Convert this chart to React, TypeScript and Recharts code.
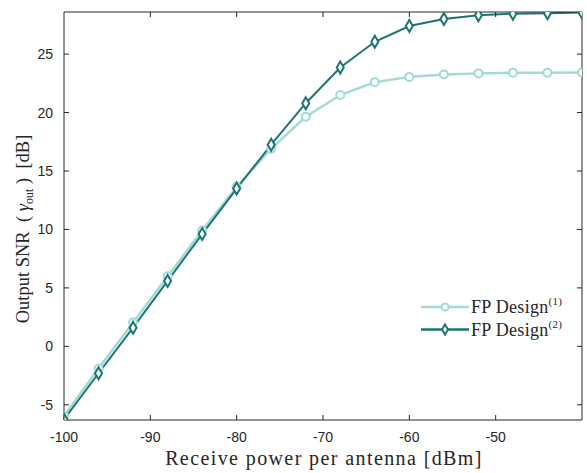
import { LineChart, Line, XAxis, YAxis, Legend } from "recharts";

const powers = [-100, -96, -92, -88, -84, -80, -76, -72, -68, -64, -60, -56, -52, -48, -44, -40];
const fpDesign1 = [-5.95, -1.9, 2.05, 6.0, 9.9, 13.65, 16.9, 19.65, 21.5, 22.6, 23.05, 23.25, 23.35, 23.4, 23.4, 23.42];
const fpDesign2 = [-6.25, -2.3, 1.6, 5.6, 9.6, 13.5, 17.25, 20.8, 23.85, 26.05, 27.4, 28.0, 28.33, 28.45, 28.5, 28.55];
const xTicks = [-100, -90, -80, -70, -60, -50];
const xTicksTop = [-90, -80, -70, -60, -50];
const yTicks = [-5, 0, 5, 10, 15, 20, 25];

const data = powers.map((p, i) => ({ p, fp1: fpDesign1[i], fp2: fpDesign2[i] }));

const LIGHT = "#a2dad8";
const DARK = "#1d7570";
const AXIS = "#262626";
const TICK_LEN = 5;
const SANS = '"Liberation Sans", Arial, sans-serif';
const SERIF = '"Liberation Serif", "Times New Roman", serif';

const BottomTick = (props: any) => {
  const { x, y, payload } = props;
  return (
    <g>
      <line x1={x} x2={x} y1={y} y2={y - TICK_LEN} stroke={AXIS} />
      <text x={x} y={y + 22} textAnchor="middle" fontSize={14} fontFamily={SANS} fill={AXIS}>
        {payload.value}
      </text>
    </g>
  );
};

const TopTick = (props: any) => {
  const { x, y } = props;
  return <line x1={x} x2={x} y1={y} y2={y + TICK_LEN} stroke={AXIS} />;
};

const LeftTick = (props: any) => {
  const { x, y, payload } = props;
  return (
    <g>
      <line x1={x} x2={x + TICK_LEN} y1={y} y2={y} stroke={AXIS} />
      <text x={x - 11} y={y + 5} textAnchor="end" fontSize={14} fontFamily={SANS} fill={AXIS}>
        {payload.value}
      </text>
    </g>
  );
};

const RightTick = (props: any) => {
  const { x, y } = props;
  return <line x1={x} x2={x - TICK_LEN} y1={y} y2={y} stroke={AXIS} />;
};

const CircleDot = (props: any) => {
  const { cx, cy, index } = props;
  if (cx == null || cy == null) return <g key={index} />;
  return <circle key={index} cx={cx} cy={cy} r={4} fill="#fff" stroke={LIGHT} strokeWidth={2} />;
};

const DiamondDot = (props: any) => {
  const { cx, cy, index } = props;
  if (cx == null || cy == null) return <g key={index} />;
  const d = `M${cx},${cy - 6} L${cx + 3.5},${cy} L${cx},${cy + 6} L${cx - 3.5},${cy} Z`;
  return <path key={index} d={d} fill="#fff" stroke={DARK} strokeWidth={2} />;
};

const YLabel = () => (
  <text
    transform="translate(29,229) rotate(-90)"
    textAnchor="middle"
    fontSize={18.5}
    fontFamily={SERIF}
    fill={AXIS}
    xmlSpace="preserve"
  >
    <tspan>{"Output SNR  ( "}</tspan>
    <tspan fontStyle="italic">γ</tspan>
    <tspan fontSize={12} dy={4}>out</tspan>
    <tspan dy={-4}>{" )  [dB]"}</tspan>
  </text>
);

const XLabel = () => (
  <text x={324} y={465} textAnchor="middle" fontSize={20} fontFamily={SERIF} fill={AXIS} letterSpacing={1.4}>
    Receive power per antenna [dBm]
  </text>
);

const legendItems = [
  { key: "fp1", name: "FP Design", sup: "(1)", color: LIGHT, marker: "circle" },
  { key: "fp2", name: "FP Design", sup: "(2)", color: DARK, marker: "diamond" },
];

const LegendContent = () => (
  <svg width={165} height={46}>
    {legendItems.map((it, i) => {
      const cy = 11 + i * 22.5;
      return (
        <g key={it.key}>
          <line x1={2} x2={50} y1={cy} y2={cy} stroke={it.color} strokeWidth={2.5} />
          {it.marker === "circle" ? (
            <circle cx={26} cy={cy} r={3.5} fill="#fff" stroke={it.color} strokeWidth={2} />
          ) : (
            <path
              d={`M26,${cy - 5} L29,${cy} L26,${cy + 5} L23,${cy} Z`}
              fill="#fff"
              stroke={it.color}
              strokeWidth={2}
            />
          )}
          <text x={52} y={cy + 6} fontSize={18} fontFamily={SERIF} fill={AXIS} letterSpacing={0.3}>
            {it.name}
            <tspan fontSize={11} dy={-8}>{it.sup}</tspan>
          </text>
        </g>
      );
    })}
  </svg>
);

export default function App() {
  return (
    <div style={{ position: "absolute", left: 0, top: 0, width: 587, height: 473, background: "#fff" }}>
      <LineChart width={587} height={473} data={data} margin={{ top: 11, right: 4, left: 0, bottom: 0 }}>
        <XAxis
          dataKey="p"
          type="number"
          domain={[-100, -40]}
          ticks={xTicks}
          allowDataOverflow
          height={53}
          stroke={AXIS}
          tickSize={0}
          tickMargin={0}
          tick={BottomTick}
          label={XLabel}
        />
        <XAxis
          xAxisId="top"
          dataKey="p"
          type="number"
          orientation="top"
          domain={[-100, -40]}
          ticks={xTicksTop}
          allowDataOverflow
          height={1}
          stroke={AXIS}
          tickSize={0}
          tickMargin={0}
          tick={TopTick}
        />
        <YAxis
          type="number"
          domain={[-6.3, 28.6]}
          ticks={yTicks}
          allowDataOverflow
          width={64}
          stroke={AXIS}
          tickSize={0}
          tickMargin={0}
          tick={LeftTick}
          label={YLabel}
        />
        <YAxis
          yAxisId="right"
          type="number"
          orientation="right"
          domain={[-6.3, 28.6]}
          ticks={yTicks}
          allowDataOverflow
          width={1}
          stroke={AXIS}
          tickSize={0}
          tickMargin={0}
          tick={RightTick}
        />
        <Legend
          layout="vertical"
          align="center"
          verticalAlign="middle"
          content={LegendContent}
          wrapperStyle={{ left: 419, top: 296, width: 165, height: 46 }}
        />
        <Line
          dataKey="fp1"
          name="FP Design(1)"
          stroke={LIGHT}
          strokeWidth={2.5}
          dot={CircleDot}
          activeDot={false}
          isAnimationActive={false}
        />
        <Line
          dataKey="fp2"
          name="FP Design(2)"
          stroke={DARK}
          strokeWidth={2}
          dot={DiamondDot}
          activeDot={false}
          isAnimationActive={false}
        />
      </LineChart>
    </div>
  );
}
